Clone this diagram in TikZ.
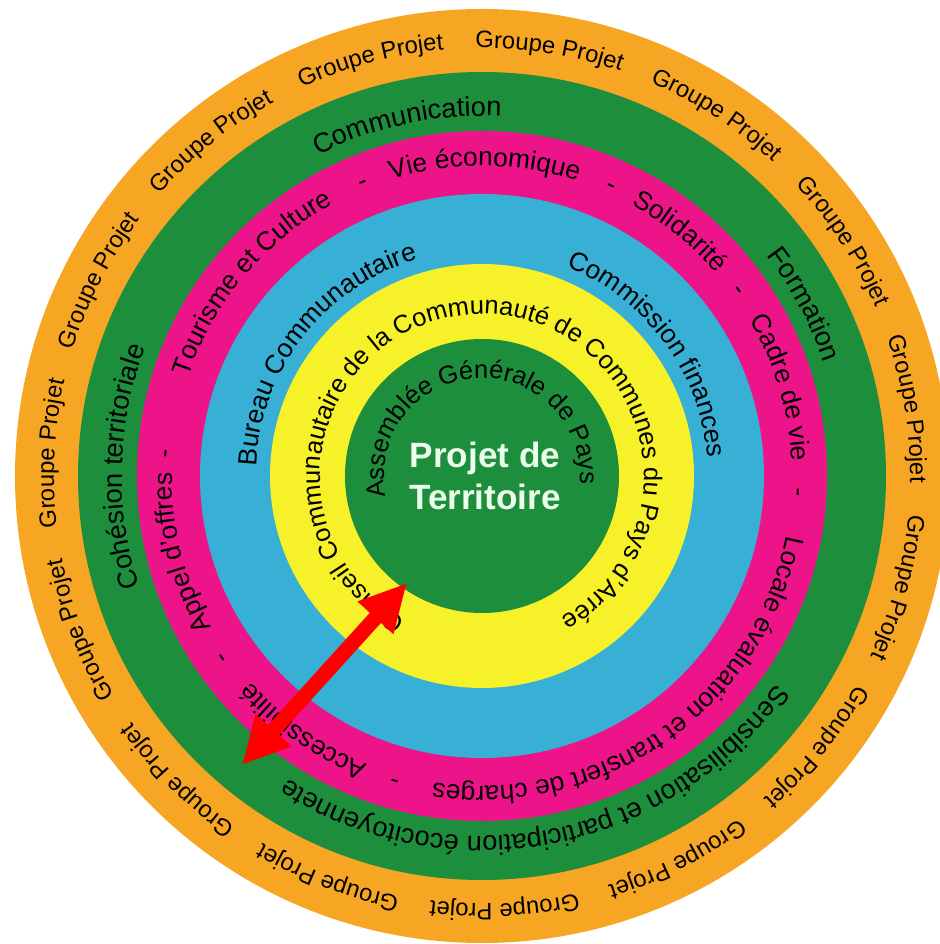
\documentclass[tikz,border=0pt]{standalone}
\usepackage{fontspec}
\setmainfont{Liberation Sans}
\usetikzlibrary{decorations.text,arrows.meta}
\definecolor{ringorange}{RGB}{246,166,35}
\definecolor{ringgreen}{RGB}{29,142,60}
\definecolor{ringpink}{RGB}{237,20,138}
\definecolor{ringblue}{RGB}{56,175,212}
\definecolor{ringyellow}{RGB}{246,241,40}
\definecolor{titlewhite}{RGB}{236,255,236}
\definecolor{arrowred}{RGB}{255,0,0}
\def\fgroupe{\fontsize{13.5}{16}\selectfont}
\def\fgreen{\fontsize{15.5}{18}\selectfont}
\def\fpink{\fontsize{15}{18}\selectfont}
\def\fblue{\fontsize{15}{18}\selectfont}
\def\fyellow{\fontsize{14.5}{17}\selectfont}
\def\fcentre{\fontsize{14.5}{17}\selectfont}
\def\ringtext[#1](#2:#3)#4{\path[decorate,decoration={text along path,text align=center,text={|#1|#4}}] ({#2+175}:#3) arc[start angle={#2+175},end angle={#2-175},radius=#3]}

\begin{document}
\begin{tikzpicture}
	%%%%% START %%%%%
	\useasboundingbox (-9.64,-9.36) rectangle (9.16,9.52);
	
	\fill[ringorange] (0,0) circle (9.34);
	\fill[ringgreen] (0,0) circle (8.08);
	\fill[ringpink] (0,0) circle (6.9);
	\fill[ringblue] (0,0) circle (5.64);
	\fill[ringyellow] (0,0) circle (4.24);
	\fill[ringgreen] (0,0) circle (2.74);
	
	% outer ring
	\foreach \a in {177,153,...,-159}
		\ringtext[\fgroupe](\a:8.56){Groupe Projet};
	
	% green ring
	\ringtext[\fgreen](102:7.2){Communication};
	\ringtext[\fgreen](28:7.2){Formation};
	\ringtext[\fgreen](-79:7.2){Sensibilisation et participation écocitoyennete};
	\ringtext[\fgreen](178.5:7.2){Cohésion territoriale};
	
	% pink ring
	\ringtext[\fpink](194.3:6.2){Appel d'offres};
	\ringtext[\fpink](140:6.2){Tourisme et Culture};
	\ringtext[\fpink](89.5:6.2){Vie économique};
	\ringtext[\fpink](51:6.2){Solidarité};
	\ringtext[\fpink](16.5:6.2){Cadre de vie};
	\ringtext[\fpink](-55:6.2){Locale évaluation et transfert de charges};
	\ringtext[\fpink](-125:6.2){Accessibilité};
	\foreach \a in {176,112,66,36,-3,-106,-145}
		\ringtext[\fpink](\a:6.2){-};
	
	% blue ring
	\ringtext[\fblue](142:4.52){Bureau Communautaire};
	\ringtext[\fblue](36.3:4.52){Commission finances};
	
	% yellow ring
	\ringtext[\fyellow](90.5:3.24){Conseil Communautaire de la Communauté de Communes du Pays d'Arrée};
	
	% centre
	\ringtext[\fcentre](93.75:1.96){Assemblée Générale de Pays};
	\node[text=titlewhite, font=\bfseries\fontsize{20}{24}\selectfont, align=center] (projet) at (0.06,0) {Projet de\\Territoire};
	
	\coordinate (inner) at (-1.5,-2.14);
	\coordinate (outer) at (-4.8,-5.78);
	\draw[arrowred, line width=0.3cm, {Triangle[length=0.94cm,width=0.9cm]}-{Triangle[length=0.94cm,width=0.9cm]}] (inner) -- (outer);
	
	%%%%% END %%%%%
\end{tikzpicture}
\end{document}
